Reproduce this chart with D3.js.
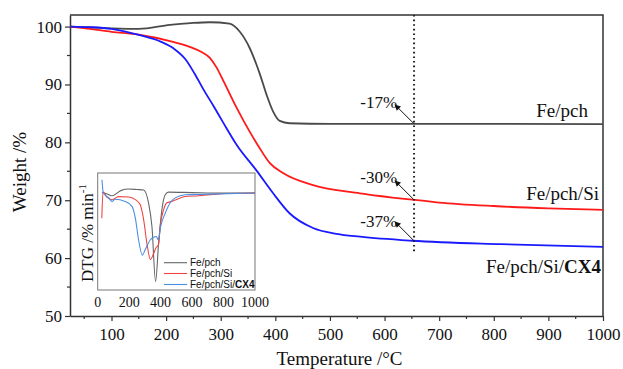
<!DOCTYPE html>
<html>
<head>
<meta charset="utf-8">
<script src="https://cdn.jsdelivr.net/npm/d3@7"></script>
<style>
  body { margin: 0; background: #fff; }
  svg text { font-family: "Liberation Serif", "Times New Roman", serif; fill: #111; }
</style>
</head>
<body>
<div id="chart"></div>
<script>
// TGA curves: [temperature °C, weight %]
const tgaFePch = [[25,100.0],[60,99.85],[100,99.7],[150,99.6],[207,100.3],[245,100.6],[280,100.75],[316,100.5],[335,99.1],[353,96.3],[372,91.7],[384,88.2],[396,85.3],[408,83.7],[426,83.3],[500,83.2],[700,83.2],[1000,83.15]];
const tgaFePchSi = [[25,100],[60,99.6],[100,99.1],[150,98.6],[207,97.5],[243,96.5],[265,95.6],[280,94.6],[292,93.0],[306,90.4],[329,86.0],[353,81.85],[370,79.2],[390,76.4],[414,74.7],[469,72.6],[555,71.2],[650,70.1],[700,69.6],[800,69.0],[900,68.6],[1000,68.35]];
const tgaFePchSiCX4 = [[25,100],[60,99.9],[100,99.6],[150,98.55],[190,97.4],[214,96.2],[235,94.4],[252,91.9],[268,89.2],[286,86.4],[304,83.5],[329,79.6],[365,75.2],[396,71.2],[426,67.75],[469,65.2],[512,64.2],[555,63.7],[650,63.0],[812,62.4],[1000,61.95]];

// DTG curves (inset): [temperature °C, DTG]
const dtgFePch = [[27,0.1],[60,-0.1],[91,-0.3],[150,0.3],[197,0.45],[250,0.4],[292,0.35],[323,-1.1],[345,-3.8],[368,-10.0],[387,-5.7],[408,-1.9],[429,-0.2],[450,0.1],[600,0.05],[800,0.0],[1000,0.0]];
const dtgFePchSi = [[26,-2.85],[34,0.1],[60,-0.5],[91,-0.75],[133,-0.4],[197,-0.45],[239,-0.75],[270,-1.3],[292,-3.0],[313,-5.7],[335,-7.5],[356,-6.8],[370,-6.2],[387,-5.8],[397,-3.8],[419,-1.9],[440,-1.1],[471,-0.95],[556,-0.4],[641,-0.3],[767,-0.1],[1000,0.0]];
const dtgFePchSiCX4 = [[27,1.5],[36,0.0],[70,-0.55],[91,-0.95],[110,-0.7],[175,-0.95],[218,-1.5],[239,-2.8],[260,-5.3],[284,-7.0],[302,-6.4],[334,-5.3],[372,-4.9],[386,-5.3],[400,-3.8],[429,-2.3],[461,-1.1],[493,-0.55],[556,-0.2],[767,-0.1],[1000,0.0]];

const seriesNames = ['Fe/pch', 'Fe/pch/Si', 'Fe/pch/Si/CX4'];
const lossLabels = ['-17%', '-30%', '-37%'];
const markTemp = 654;
const xTicks = [100,200,300,400,500,600,700,800,900,1000];
const yTicks = [50,60,70,80,90,100];
const insetTicks = [0,200,400,600,800,1000];

const W = 623, H = 369;
const margin = { top: 15, right: 20, bottom: 53, left: 70 };
const width = W - margin.left - margin.right;
const height = H - margin.top - margin.bottom;

const svg = d3.select('#chart').append('svg')
  .attr('width', W).attr('height', H);

const g = svg.append('g')
  .attr('transform', 'translate(' + margin.left + ',' + margin.top + ')');

const x = d3.scaleLinear().domain([24, 1000]).range([0, width]);
const y = d3.scaleLinear().domain([50, 102]).range([height, 0]);

// minor ticks
const xMinor = d3.range(50, 1000, 100);
const yMinor = d3.range(55, 100, 10);
g.append('g').selectAll('line').data(xMinor).enter().append('line')
  .attr('x1', d => x(d)).attr('x2', d => x(d))
  .attr('y1', height).attr('y2', height + 3)
  .attr('stroke', '#333').attr('stroke-width', 1.2);
g.append('g').selectAll('line').data(yMinor).enter().append('line')
  .attr('y1', d => y(d)).attr('y2', d => y(d))
  .attr('x1', 0).attr('x2', -3)
  .attr('stroke', '#333').attr('stroke-width', 1.2);

// X axis
const xAxis = g.append('g')
  .attr('transform', 'translate(0,' + height + ')')
  .call(d3.axisBottom(x).tickValues(xTicks).tickFormat(d3.format('d'))
    .tickSize(5).tickSizeOuter(0).tickPadding(7));
// Y axis
const yAxis = g.append('g')
  .call(d3.axisLeft(y).tickValues(yTicks).tickFormat(d3.format('d'))
    .tickSize(5).tickSizeOuter(0).tickPadding(3));

[xAxis, yAxis].forEach(a => {
  a.attr('font-family', null);
  a.select('.domain').attr('stroke', '#333').attr('stroke-width', 1.5);
  a.selectAll('.tick line').attr('stroke', '#333').attr('stroke-width', 1.2);
  a.selectAll('text').style('font-size', '17px')
    .style('font-family', '"Liberation Serif", serif').attr('fill', '#111');
});

// top & right frame
g.append('path')
  .attr('d', 'M0,0H' + width + 'V' + height)
  .attr('fill', 'none').attr('stroke', '#333').attr('stroke-width', 1.5);

// axis titles
svg.append('text')
  .attr('x', margin.left + width / 2 + 3).attr('y', 365)
  .attr('text-anchor', 'middle').style('font-size', '19px')
  .text('Temperature /°C');
svg.append('text')
  .attr('transform', 'translate(26,172) rotate(-90)')
  .attr('text-anchor', 'middle').style('font-size', '19px')
  .text('Weight /%');

// TGA lines
const line = d3.line().x(d => x(d[0])).y(d => y(d[1])).curve(d3.curveMonotoneX);
const tga = [tgaFePch, tgaFePchSi, tgaFePchSiCX4];
const tgaColors = ['#4a4a4a', '#ff1a1a', '#1a1aff'];
tga.forEach((s, i) => {
  g.append('path').datum(s)
    .attr('d', line)
    .attr('fill', 'none')
    .attr('stroke', tgaColors[i])
    .attr('stroke-width', 1.8);
});

// dotted marker line
g.append('line')
  .attr('x1', x(markTemp)).attr('x2', x(markTemp))
  .attr('y1', 0).attr('y2', y(61))
  .attr('stroke', '#222').attr('stroke-width', 2)
  .attr('stroke-dasharray', '1.6,3');

// arrows + loss labels
svg.append('defs').append('marker')
  .attr('id', 'arrow').attr('viewBox', '0 0 10 10')
  .attr('refX', 9).attr('refY', 5)
  .attr('markerWidth', 7).attr('markerHeight', 6)
  .attr('orient', 'auto')
  .append('path').attr('d', 'M0,0L10,5L0,10z').attr('fill', '#111');

const bisect = d3.bisector(d => d[0]).left;
function valueAt(s, t) {
  const i = bisect(s, t);
  const a = s[i - 1], b = s[i];
  return a[1] + (b[1] - a[1]) * (t - a[0]) / (b[0] - a[0]);
}
const labelDy = [-16, -17, -14];
tga.forEach((s, i) => {
  const px = x(markTemp), py = y(valueAt(s, markTemp));
  g.append('line')
    .attr('x1', px).attr('y1', py)
    .attr('x2', px - 19).attr('y2', py - 19)
    .attr('stroke', '#111').attr('stroke-width', 1)
    .attr('marker-end', 'url(#arrow)');
  g.append('text')
    .attr('x', px - 17).attr('y', py + labelDy[i])
    .attr('text-anchor', 'end').style('font-size', '17px')
    .text(lossLabels[i]);
});

// series labels
const nameX = [588, 599, 601];
const nameY = [117, 200, 273];
seriesNames.forEach((n, i) => {
  const t = svg.append('text')
    .attr('x', nameX[i]).attr('y', nameY[i])
    .attr('text-anchor', 'end').style('font-size', '19px');
  if (i === 2) {
    t.append('tspan').text('Fe/pch/Si/');
    t.append('tspan').style('font-weight', 'bold').text('CX4');
  } else {
    t.text(n);
  }
});

// ---- inset DTG ----
const ix = d3.scaleLinear().domain([0, 1000]).range([97.7, 255]);
const iy = d3.scaleLinear().domain([-10.94, 2.26]).range([290, 173]);

svg.append('rect')
  .attr('x', 97.7).attr('y', 173)
  .attr('width', 255 - 97.7).attr('height', 290 - 173)
  .attr('fill', '#fff');

svg.append('clipPath').attr('id', 'insetClip')
  .append('rect').attr('x', 97.7).attr('y', 173)
  .attr('width', 255 - 97.7).attr('height', 290 - 173);

const iline = d3.line().x(d => ix(d[0])).y(d => iy(d[1])).curve(d3.curveMonotoneX);
const dtg = [dtgFePch, dtgFePchSi, dtgFePchSiCX4];
const dtgColors = ['#666666', '#ee4444', '#4a8ee0'];
const insetG = svg.append('g').attr('clip-path', 'url(#insetClip)');
dtg.forEach((s, i) => {
  insetG.append('path').datum(s)
    .attr('d', iline)
    .attr('fill', 'none')
    .attr('stroke', dtgColors[i])
    .attr('stroke-width', 1.1);
});

svg.append('rect')
  .attr('x', 97.7).attr('y', 173)
  .attr('width', 255 - 97.7).attr('height', 290 - 173)
  .attr('fill', 'none').attr('stroke', '#777').attr('stroke-width', 1);

svg.append('g').selectAll('text').data(insetTicks).enter().append('text')
  .attr('x', d => ix(d)).attr('y', 306.5)
  .attr('text-anchor', 'middle').style('font-size', '14px')
  .text(d => d);

const dtgTitle = svg.append('text')
  .attr('transform', 'translate(93,233) rotate(-90)')
  .attr('text-anchor', 'middle').style('font-size', '17px');
dtgTitle.append('tspan').text('DTG /% min');
dtgTitle.append('tspan').attr('dy', -7).style('font-size', '11px').text('-1');

// inset legend
const legY = [262.7, 273.5, 284.5];
seriesNames.forEach((n, i) => {
  svg.append('line')
    .attr('x1', 164).attr('x2', 187)
    .attr('y1', legY[i]).attr('y2', legY[i])
    .attr('stroke', dtgColors[i]).attr('stroke-width', 1.1);
  const t = svg.append('text')
    .attr('x', 190).attr('y', legY[i]).attr('dy', '0.35em')
    .style('font-family', '"Liberation Sans", Arial, sans-serif')
    .style('font-size', '10px');
  if (i === 2) {
    t.append('tspan').text('Fe/pch/Si/');
    t.append('tspan').style('font-weight', 'bold').text('CX4');
  } else {
    t.text(n);
  }
});
</script>
</body>
</html>
